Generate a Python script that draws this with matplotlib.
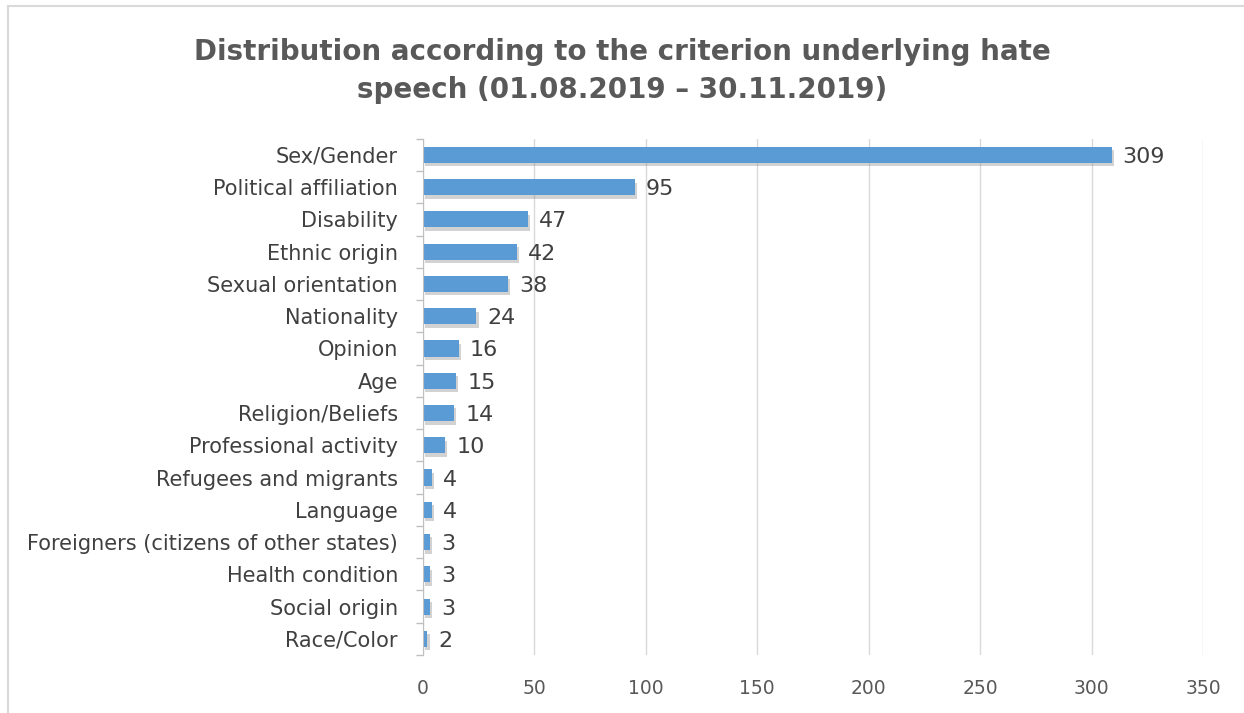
import numpy as np
import matplotlib.pyplot as plt
import matplotlib.patheffects as pe
from matplotlib.lines import Line2D

# ==========================
# data
# ==========================
categories = [
    "Sex/Gender", "Political affiliation", "Disability", "Ethnic origin",
    "Sexual orientation", "Nationality", "Opinion", "Age", "Religion/Beliefs",
    "Professional activity", "Refugees and migrants", "Language",
    "Foreigners (citizens of other states)", "Health condition",
    "Social origin", "Race/Color",
]
values = [309, 95, 47, 42, 38, 24, 16, 15, 14, 10, 4, 4, 3, 3, 3, 2]
x_ticks = [0, 50, 100, 150, 200, 250, 300, 350]

title = "Distribution according to the criterion underlying hate\nspeech (01.08.2019 \u2013 30.11.2019)"

# ==========================
# plot
# ==========================
plt.rcParams['font.family'] = ['DejaVu Sans']
fig = plt.figure(figsize=(12.44, 7.13), dpi=100)
ax = fig.add_axes([0.340, 0.0814, 0.627, 0.724])

y = np.arange(len(categories))
bars = ax.barh(y, values, height=0.5, color="#5B9BD5", zorder=3)
for b in bars:
    b.set_path_effects([pe.SimplePatchShadow(offset=(1.5, -2.5), alpha=0.35, shadow_rgbFace="#808080"),
                        pe.Normal()])

for yi, v in zip(y, values):
    ax.annotate(str(v), (v, yi), xytext=(8, 0), textcoords="offset points",
                va="center_baseline", ha="left", fontsize=16, color="#404040")

ax.set_ylim(len(categories) - 0.5, -0.5)
ax.set_xlim(0, 350)
ax.set_xticks(x_ticks)
ax.set_xticklabels([str(t) for t in x_ticks], fontsize=13.5, color="#595959")
ax.tick_params(axis="x", length=0, pad=17)

ax.set_yticks(y)
ax.set_yticklabels(categories, fontsize=15, color="#404040")
ax.tick_params(axis="y", which="major", length=0, pad=18)
ax.set_yticks(np.arange(-0.5, len(categories)), minor=True)
ax.tick_params(axis="y", which="minor", length=5, color="#BFBFBF", width=1)

ax.grid(axis="x", color="#D9D9D9", linewidth=1, zorder=0)
for s in ["top", "right", "bottom"]:
    ax.spines[s].set_visible(False)
ax.spines["left"].set_color("#BFBFBF")
ax.spines["left"].set_zorder(4)

fig.text(0.5, 0.900, title, ha="center", va="center", fontsize=20,
         fontweight="bold", color="#595959", linespacing=1.45)

# frame lines (cropped chart border)
fig.add_artist(Line2D([0.0065, 1.0], [0.9915, 0.9915], color="#D9D9D9", lw=1.5))
fig.add_artist(Line2D([0.0065, 0.0065], [0.0, 0.9915], color="#D9D9D9", lw=1.5))

plt.savefig("out.png", dpi=100)
plt.close()
